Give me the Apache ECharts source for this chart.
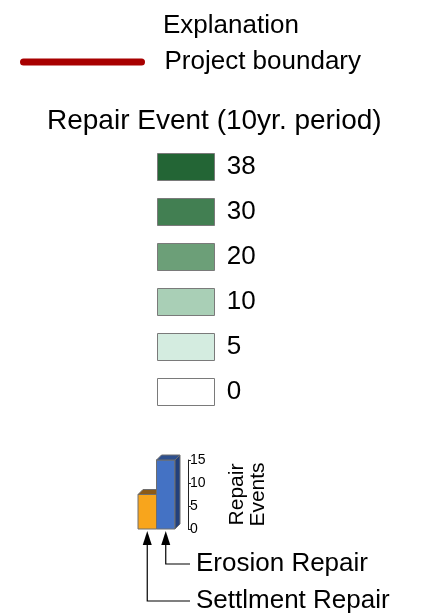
<!DOCTYPE html>
<html>
<head>
<meta charset="utf-8">
<script src="https://cdn.jsdelivr.net/npm/echarts@6/dist/echarts.min.js"></script>
<style>
html,body{margin:0;padding:0;background:#fff;}
#chart{width:425px;height:613px;}
</style>
</head>
<body>
<div id="chart"></div>
<script>
// ---- data ----
const explanationTitle = 'Explanation';
const boundaryName = 'Project boundary';
const boundaryColor = '#a80000';
const legendTitle = 'Repair Event (10yr. period)';
const legendValues = ['38', '30', '20', '10', '5', '0'];
const legendColors = ['#236535', '#427f52', '#6c9f78', '#a9cfb6', '#d4ece0', '#ffffff'];
const categories = ['Settlment Repair', 'Erosion Repair'];
const repairValues = [7.5, 15];
const barColors = ['#f8a51c', '#4472c4'];
const barTopColors = ['#8c5a17', '#2d4f8e'];
const barSideColors = ['#b0730f', '#22407c'];
const yMin = 0, yMax = 15, yInterval = 5;
const axisName = 'Repair\nEvents';

const FONT = '"Liberation Sans", Arial, sans-serif';
const chart = echarts.init(document.getElementById('chart'), null, {renderer: 'canvas'});

const series = [];
series.push({
  type: 'line', name: boundaryName, data: [], color: boundaryColor
});
legendValues.forEach((v, i) => {
  series.push({
    type: 'scatter', name: v, data: [], color: legendColors[i],
    itemStyle: {color: legendColors[i], opacity: 1}
  });
});
series.push({
  type: 'custom',
  name: 'repairs',
  clip: false,
  data: repairValues.map((v, i) => [i, v]),
  encode: {x: 0, y: 1},
  renderItem: function (params, api) {
    const idx = api.value(0);
    const val = api.value(1);
    const base = api.coord([idx, 0]);
    const top = api.coord([idx, val]);
    const bw = api.size([1, 0])[0];
    const left = base[0] - bw / 2;
    const d = 5;
    const cs = params.coordSys;
    const cx = base[0];
    const n = categories.length;
    const labelY = base[1] + 35 + (n - 1 - idx) * 37;
    const lineEndX = cs.x + cs.width + 15;
    const stroke = '#6e6e6e';
    return {
      type: 'group',
      children: [
        {type: 'rect', shape: {x: left, y: top[1], width: bw, height: base[1] - top[1]},
          style: {fill: barColors[idx], stroke: stroke, lineWidth: 1}},
        {type: 'polygon', shape: {points: [[left, top[1]], [left + d, top[1] - d], [left + bw + d, top[1] - d], [left + bw, top[1]]]},
          style: {fill: barTopColors[idx], stroke: stroke, lineWidth: 1}},
        {type: 'polygon', shape: {points: [[left + bw, top[1]], [left + bw + d, top[1] - d], [left + bw + d, base[1] - d], [left + bw, base[1]]]},
          style: {fill: barSideColors[idx], stroke: stroke, lineWidth: 1}},
        {type: 'polyline', shape: {points: [[cx, base[1] + 12], [cx, labelY], [lineEndX, labelY]]},
          style: {stroke: '#000', lineWidth: 1.2, fill: null}},
        {type: 'polygon', shape: {points: [[cx, base[1] + 2], [cx - 4.5, base[1] + 16], [cx + 4.5, base[1] + 16]]},
          style: {fill: '#000'}},
        {type: 'text', x: lineEndX + 6, y: labelY,
          style: {text: categories[idx], fontSize: 26, fontFamily: FONT, fill: '#000', verticalAlign: 'middle', align: 'left'}}
      ]
    };
  }
});

const option = {
  backgroundColor: '#fff',
  animation: false,
  textStyle: {fontFamily: FONT},
  grid: {left: 138, top: 460, width: 37, height: 69},
  xAxis: {type: 'category', data: categories, show: false},
  yAxis: {
    type: 'value', position: 'right', offset: 13,
    min: yMin, max: yMax, interval: yInterval,
    axisLine: {show: true, lineStyle: {color: '#222', width: 1}},
    axisTick: {show: true, length: 3, lineStyle: {color: '#222'}},
    axisLabel: {fontSize: 14, color: '#000', margin: 2, fontFamily: FONT},
    splitLine: {show: false},
    name: axisName, nameLocation: 'middle', nameRotate: 90, nameGap: 39,
    nameTextStyle: {fontSize: 21, color: '#000', lineHeight: 21, fontFamily: FONT}
  },
  title: [
    {text: explanationTitle, left: 163, top: 13, padding: 0,
      textStyle: {fontSize: 26, fontWeight: 'normal', color: '#000', fontFamily: FONT}},
    {text: legendTitle, left: 47, top: 107, padding: 0,
      textStyle: {fontSize: 28, fontWeight: 'normal', color: '#000', fontFamily: FONT}}
  ],
  legend: [
    {
      data: [boundaryName], left: 20, top: 49, padding: 0,
      itemWidth: 125, itemHeight: 7, selectedMode: false,
      icon: 'path://M3.5,0 L121.5,0 A3.5,3.5 0 0 1 121.5,7 L3.5,7 A3.5,3.5 0 0 1 3.5,0 Z',
      itemStyle: {color: boundaryColor, borderWidth: 0},
      lineStyle: {width: 0},
      formatter: '  {name}',
      textStyle: {fontSize: 26, color: '#000', fontFamily: FONT}
    },
    {
      data: legendValues, orient: 'vertical', left: 157, top: 153, padding: 0,
      itemWidth: 57, itemHeight: 27, itemGap: 17, selectedMode: false,
      icon: 'rect',
      itemStyle: {borderColor: '#7a7a7a', borderWidth: 1},
      formatter: ' {name}',
      textStyle: {fontSize: 26, color: '#000', fontFamily: FONT}
    }
  ],
  series: series
};
chart.setOption(option);
</script>
</body>
</html>
